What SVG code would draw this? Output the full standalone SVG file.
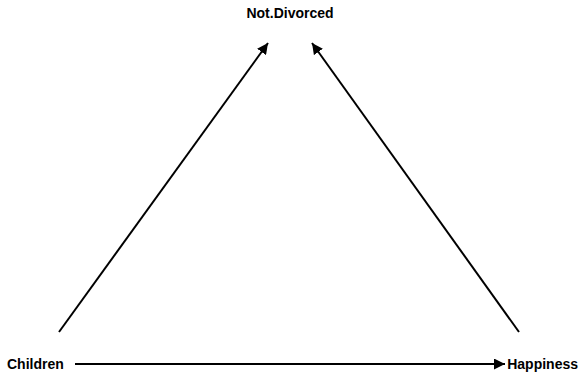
<svg xmlns="http://www.w3.org/2000/svg" width="580" height="372" viewBox="0 0 580 372">
<style>
text{font-family:"Liberation Sans",Arial,sans-serif;font-weight:bold;font-size:14px;fill:#000}
.e{stroke:#000;stroke-width:2;fill:none}
</style>
<defs>
<marker id="a" viewBox="0 0 10 10" refX="10" refY="5" markerWidth="5.5" markerHeight="5.5" orient="auto" markerUnits="strokeWidth">
<path d="M0,0 L10,5 L0,10 z" fill="#000"/>
</marker>
</defs>
<rect width="580" height="372" fill="#fff"/>
<g id="connectors">
<line class="e" x1="59" y1="332" x2="268" y2="43" marker-end="url(#a)"/>
<line class="e" x1="519" y1="332" x2="312" y2="43" marker-end="url(#a)"/>
<line class="e" x1="75" y1="364" x2="505" y2="364" marker-end="url(#a)"/>
</g>
<g id="Not.Divorced"><text x="290" y="18" text-anchor="middle">Not.Divorced</text></g>
<g id="Children"><text x="7" y="369">Children</text></g>
<g id="Happiness"><text x="578" y="369" text-anchor="end">Happiness</text></g>
</svg>
